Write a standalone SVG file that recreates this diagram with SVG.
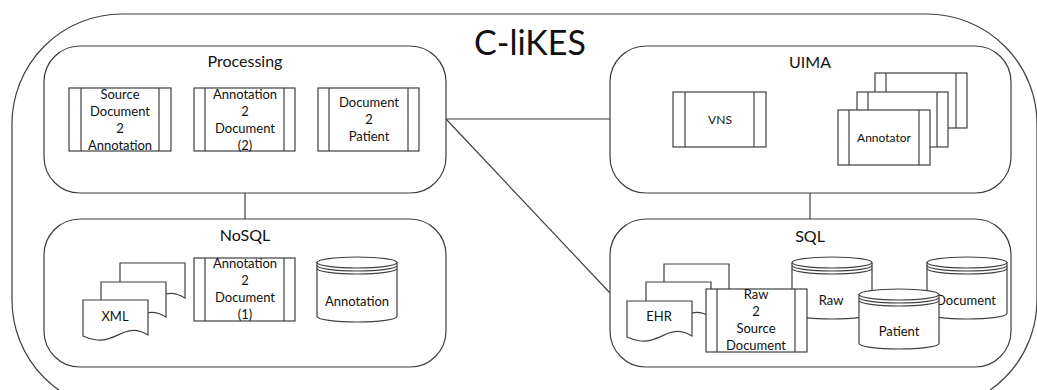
<svg xmlns="http://www.w3.org/2000/svg" width="1037" height="390" viewBox="0 0 1037 390">
<style>
.s{fill:#fff;stroke:#404040;stroke-width:1.2}
.n{fill:none;stroke:#404040;stroke-width:1.2}
.c{fill:none;stroke:#404040;stroke-width:1.2}
text{font-family:Lato,"Liberation Sans",sans-serif;fill:#111;text-anchor:middle}
.t{font-size:16px}
.b{font-size:13px}
.m{font-size:12px}
</style>
<defs>
<path id="doc" d="M0,0 H65 V35 C57,30 50,29 42,32 C32,36 24,41 14,40 C8,39.5 4,38 0,36 Z"/>
</defs>
<rect id="outer" x="12" y="14" width="1025" height="396" rx="110" ry="110" class="n"/>
<text x="530" y="55" style="font-size:34px">C-liKES</text>

<g id="connectors">
<line x1="245" y1="193" x2="245" y2="219" class="c"/>
<line x1="810" y1="193" x2="810" y2="219" class="c"/>
<line x1="446" y1="119" x2="610" y2="119" class="c"/>
<line x1="446" y1="119" x2="610" y2="293" class="c"/>
</g>

<g id="processing">
<rect x="44" y="46" width="402" height="147" rx="36" class="s"/>
<text x="245" y="67" class="t">Processing</text>
<g id="src2ann">
<rect x="69" y="88" width="102" height="63" class="s"/>
<line x1="81" y1="88" x2="81" y2="151" class="n"/><line x1="159" y1="88" x2="159" y2="151" class="n"/>
<text class="b" x="120" y="99">Source</text><text class="b" x="120" y="116">Document</text><text class="b" x="120" y="133">2</text><text class="b" x="120" y="150">Annotation</text>
</g>
<g id="ann2doc2">
<rect x="194" y="88" width="101" height="63" class="s"/>
<line x1="205" y1="88" x2="205" y2="151" class="n"/><line x1="284" y1="88" x2="284" y2="151" class="n"/>
<text class="b" x="245" y="99">Annotation</text><text class="b" x="245" y="116">2</text><text class="b" x="245" y="133">Document</text><text class="b" x="245" y="150">(2)</text>
</g>
<g id="doc2pat">
<rect x="318" y="88" width="101" height="63" class="s"/>
<line x1="329" y1="88" x2="329" y2="151" class="n"/><line x1="408" y1="88" x2="408" y2="151" class="n"/>
<text class="b" x="369" y="107">Document</text><text class="b" x="369" y="124">2</text><text class="b" x="369" y="141">Patient</text>
</g>
</g>

<g id="nosql">
<rect x="44" y="219" width="402" height="148" rx="36" class="s"/>
<text x="245" y="241" class="t">NoSQL</text>
<g id="xml">
<use href="#doc" x="120" y="263" class="s"/>
<use href="#doc" x="101" y="282" class="s"/>
<use href="#doc" x="83" y="300" class="s"/>
<text class="b" x="115" y="321">XML</text>
</g>
<g id="ann2doc1">
<rect x="194" y="258" width="101" height="63" class="s"/>
<line x1="205" y1="258" x2="205" y2="321" class="n"/><line x1="284" y1="258" x2="284" y2="321" class="n"/>
<text class="b" x="245" y="268">Annotation</text><text class="b" x="245" y="285">2</text><text class="b" x="245" y="302">Document</text><text class="b" x="245" y="319">(1)</text>
</g>
<g id="anndb">
<path d="M317,262.5 V316.5 A40,5.5 0 0 0 397,316.5 V262.5 Z" class="s"/>
<ellipse cx="357" cy="262.5" rx="40" ry="5.5" class="s"/>
<path d="M317,265.5 A40,5.5 0 0 0 397,265.5 M317,268.5 A40,5.5 0 0 0 397,268.5" class="n"/>
<text class="b" x="357" y="306">Annotation</text>
</g>
</g>

<g id="uima">
<rect x="610" y="46" width="401" height="147" rx="36" class="s"/>
<text x="810" y="68" class="t">UIMA</text>
<g id="vns">
<rect x="673" y="92" width="93" height="55" class="s"/>
<line x1="685" y1="92" x2="685" y2="147" class="n"/><line x1="754" y1="92" x2="754" y2="147" class="n"/>
<text class="m" x="720" y="124">VNS</text>
</g>
<g id="annotator">
<rect x="875" y="73" width="92" height="55" class="s"/>
<line x1="886" y1="73" x2="886" y2="128" class="n"/><line x1="956" y1="73" x2="956" y2="128" class="n"/>
<rect x="857" y="92" width="91" height="55" class="s"/>
<line x1="868" y1="92" x2="868" y2="147" class="n"/><line x1="937" y1="92" x2="937" y2="147" class="n"/>
<rect x="838" y="110" width="92" height="55" class="s"/>
<line x1="849" y1="110" x2="849" y2="165" class="n"/><line x1="919" y1="110" x2="919" y2="165" class="n"/>
<text class="m" x="884" y="142">Annotator</text>
</g>
</g>

<g id="sql">
<rect x="610" y="219" width="401" height="148" rx="36" class="s"/>
<text x="810" y="242" class="t">SQL</text>
<g id="ehr">
<use href="#doc" x="664" y="264" class="s"/>
<use href="#doc" x="646" y="282" class="s"/>
<use href="#doc" x="627" y="301" class="s"/>
<text class="b" x="659" y="321">EHR</text>
</g>
<g id="rawdb">
<path d="M792,262.5 V313.5 A40,5.5 0 0 0 872,313.5 V262.5 Z" class="s"/>
<ellipse cx="832" cy="262.5" rx="40" ry="5.5" class="s"/>
<path d="M792,265.5 A40,5.5 0 0 0 872,265.5 M792,268.5 A40,5.5 0 0 0 872,268.5" class="n"/>
<text class="b" x="831" y="305">Raw</text>
</g>
<g id="raw2src">
<rect x="706" y="289" width="101" height="63" class="s"/>
<line x1="717" y1="289" x2="717" y2="352" class="n"/><line x1="795" y1="289" x2="795" y2="352" class="n"/>
<text class="b" x="756" y="299">Raw</text><text class="b" x="756" y="316">2</text><text class="b" x="756" y="333">Source</text><text class="b" x="756" y="350">Document</text>
</g>
<g id="docdb">
<path d="M927,262.5 V313.5 A40,5.5 0 0 0 1007,313.5 V262.5 Z" class="s"/>
<ellipse cx="967" cy="262.5" rx="40" ry="5.5" class="s"/>
<path d="M927,265.5 A40,5.5 0 0 0 1007,265.5 M927,268.5 A40,5.5 0 0 0 1007,268.5" class="n"/>
<text class="b" x="966" y="305">Document</text>
</g>
<g id="patdb">
<path d="M859,294.5 V343.5 A40,5.5 0 0 0 939,343.5 V294.5 Z" class="s"/>
<ellipse cx="899" cy="294.5" rx="40" ry="5.5" class="s"/>
<path d="M859,297.5 A40,5.5 0 0 0 939,297.5 M859,300.5 A40,5.5 0 0 0 939,300.5" class="n"/>
<text class="b" x="899" y="336">Patient</text>
</g>
</g>
</svg>
